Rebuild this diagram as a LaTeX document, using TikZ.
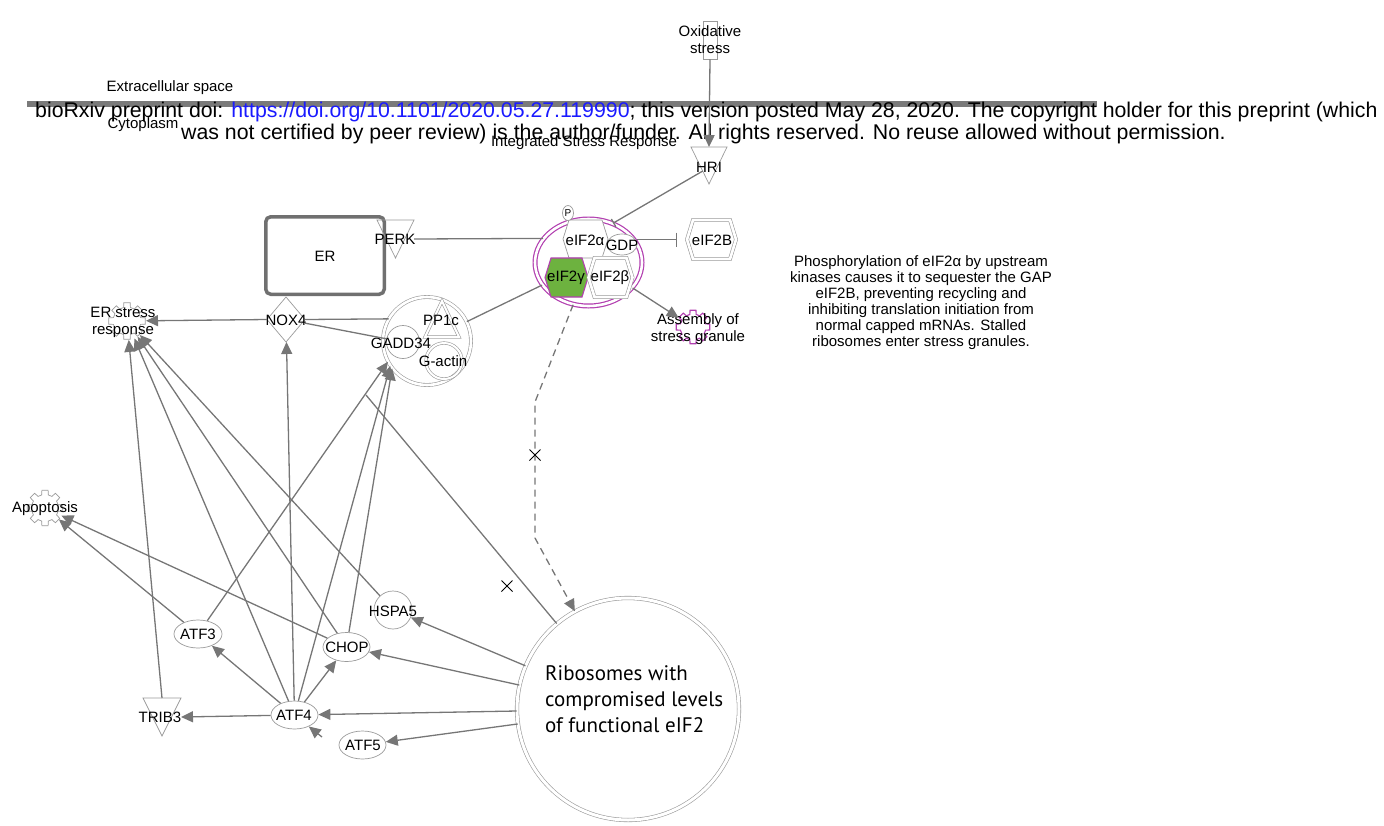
\documentclass[tikz,border=0pt]{standalone}
\usepackage{fontspec}
\setmainfont{Liberation Sans}
\newfontfamily\ribofont{PT Sans}
\usetikzlibrary{shapes.geometric,shapes.misc,arrows.meta,calc}
\definecolor{cedge}{HTML}{767676}
\definecolor{cshape}{HTML}{9A9A9A}
\definecolor{cer}{HTML}{707070}
\definecolor{cbar}{HTML}{7A7A7A}
\definecolor{cmag}{HTML}{B23FB0}
\definecolor{cgrn}{HTML}{6DB23F}
\definecolor{curl}{HTML}{1A1AFF}
\newcommand\labfont{\fontsize{15}{17}\selectfont}
\newcommand\drawgear[5]{%
  \draw[#5, shift={(#1,#2)}] ({-10}:#4) \foreach \a in {0,45,...,315}{ -- ({\a+10}:#4) -- ({\a+14}:#3) -- ({\a+31}:#3) -- ({\a+35}:#4)} -- cycle;}
\begin{document}
\begin{tikzpicture}[x=1pt,y=-1pt,
  lbl/.style={font=\labfont, inner sep=0pt, align=center},
  outl/.style={draw=cshape, line width=0.7pt},
  conn/.style={draw=cedge, line width=1.3pt},
  connarr/.style={conn, -{Triangle[length=12pt,width=11pt]}},
  invis/.style={inner sep=0pt, outer sep=0pt},
  hexpath/.style={insert path={($(#1.north west)+(6,0)$) -- ($(#1.north east)+(-6,0)$) -- (#1.east) -- ($(#1.south east)+(-6,0)$) -- ($(#1.south west)+(6,0)$) -- (#1.west) -- cycle}},
  dbl/.style={double=white, double distance=2.6pt, line width=0.6pt, draw=cshape},
  xmark/.style={cross out, draw=black, line width=1pt, minimum size=10pt, inner sep=0pt},
  ellnode/.style={ellipse, outl, minimum width=47, minimum height=28, inner sep=0pt},
]
\useasboundingbox (0,0) rectangle (1384,825);

% ---------- membrane and header texts
\fill[cbar] (27,101) rectangle (1097,107);
\node[lbl] (extra) at (170,88) {Extracellular space};
\node[lbl] (cyto) at (143,125) {Cytoplasm};
\node[lbl] (isr) at (584,143) {Integrated Stress Response};
\node[font=\fontsize{21.3}{24}\selectfont, inner sep=0pt, anchor=base west] (brx1) at (35,117) {bioRxiv preprint doi: \textcolor{curl}{https://doi.org/10.1101/2020.05.27.119990}; this version posted May 28, 2020. The copyright holder for this preprint (which};
\node[font=\fontsize{21.3}{24}\selectfont, inner sep=0pt, anchor=base west] (brx2) at (181,139) {was not certified by peer review) is the author/funder. All rights reserved. No reuse allowed without permission.};

% ---------- top: oxidative stress, HRI
\node[outl, minimum width=14, minimum height=38, inner sep=0pt] (oxs) at (710,40) {};
\node[lbl] (oxs-t) at (710,40) {Oxidative\\stress};
\node[invis, minimum width=36, minimum height=37] (hri) at (709,165.5) {};
\draw[outl] (hri.north west) -- (hri.north east) -- (hri.south) -- cycle;
\node[lbl] (hri-t) at (709,167) {HRI};

% ---------- ER, PERK, NOX4
\node[draw=cer, line width=3.5pt, rounded corners=5pt, minimum width=118.5, minimum height=77.5, inner sep=0pt] (er) at (325,255.5) {};
\node[lbl] (er-t) at (325,256) {ER};
\node[invis, minimum width=37, minimum height=38] (perk) at (395.5,239) {};
\draw[outl] (perk.north west) -- (perk.north east) -- (perk.south) -- cycle;
\node[lbl] (perk-t) at (395,239) {PERK};
\node[invis, minimum width=38, minimum height=45] (nox4) at (286,319.5) {};
\draw[outl, fill=white] (nox4.north) -- (nox4.east) -- (nox4.south) -- (nox4.west) -- cycle;
\node[lbl] (nox4-t) at (286,320) {NOX4};

% ---------- GADD34 complex
\node[circle, dbl, minimum size=88, inner sep=0pt] (gcx) at (427,341) {};
\node[circle, outl, minimum size=33, inner sep=0pt] (gadd) at (403,342) {};
\node[circle, dbl, double distance=2pt, minimum size=36, inner sep=0pt] (gact) at (444,361) {};
\node[invis, minimum width=34, minimum height=36] (pp1c) at (442,319) {};
\draw[dbl, double distance=2pt] (pp1c.south west) -- (pp1c.north) -- (pp1c.south east) -- cycle;
\node[lbl] (pp1c-t) at (441,320) {PP1c};
\node[lbl] (gadd-t) at (401,343) {GADD34};
\node[lbl] (gact-t) at (443,361) {G-actin};

% ---------- eIF2 complex
\node[ellipse, draw=cmag, double=white, double distance=2.6pt, line width=1.2pt, minimum width=107, minimum height=87, inner sep=0pt] (eif2) at (588.5,262.5) {};
\node[invis, minimum width=45, minimum height=38] (eif2a) at (585.5,239) {};
\draw[outl, fill=white] [hexpath=eif2a];
\node[invis, minimum width=43, minimum height=39] (eif2g) at (566.5,277.5) {};
\draw[draw=cmag, line width=1.1pt, fill=cgrn] [hexpath=eif2g];
\node[invis, minimum width=44, minimum height=39] (eif2bt) at (610.5,277.5) {};
\draw[dbl, fill=white] [hexpath=eif2bt];
\node[ellipse, outl, fill=white, minimum width=30, minimum height=21, inner sep=0pt] (gdp) at (622,244.5) {};
\node[ellipse, outl, fill=white, minimum width=11, minimum height=15, inner sep=0pt] (phos) at (568,213) {};
\node[font=\fontsize{10}{10}\selectfont, inner sep=0pt] (phos-t) at (568,213) {P};
\node[lbl] (eif2a-t) at (585,240) {eIF2α};
\node[lbl] (gdp-t) at (622,245) {GDP};
\node[lbl] (eif2g-t) at (566,277.5) {eIF2γ};
\node[lbl] (eif2bt-t) at (610,277.5) {eIF2β};
\node[invis, minimum width=49, minimum height=39] (eif2b) at (711.5,239.5) {};
\draw[dbl] [hexpath=eif2b];
\node[lbl] (eif2b-t) at (712,240) {eIF2B};

% ---------- functions (gears)
\node[circle, invis, minimum size=34] (asg) at (693,327) {};
\drawgear{693}{327}{13}{17}{draw=cmag, line width=1.1pt}
\node[lbl] (asg-t) at (698,329) {Assembly of\\stress granule};
\node[circle, invis, minimum size=38] (ers) at (127,321) {};
\drawgear{127}{321}{14}{18.5}{outl}
\node[lbl] (ers-t) at (123,322) {ER stress\\response};
\node[circle, invis, minimum size=36] (apo) at (45,508) {};
\drawgear{45}{508}{13.5}{18}{outl}
\node[lbl] (apo-t) at (45,509) {Apoptosis};

% ---------- genes
\node[ellnode, minimum width=48] (atf3) at (198,634) {};
\node[ellnode] (atf4) at (294.5,715) {};
\node[ellnode, minimum height=29] (chop) at (346.5,647) {};
\node[ellnode] (atf5) at (362.5,745) {};
\node[circle, outl, minimum size=38, inner sep=0pt] (hspa5) at (393,610) {};
\node[invis, minimum width=38, minimum height=38] (trib3) at (162,717) {};
\draw[outl] (trib3.north west) -- (trib3.north east) -- (trib3.south) -- cycle;
\node[lbl] (atf3-t) at (198,634) {ATF3};
\node[lbl] (atf4-t) at (294,715) {ATF4};
\node[lbl] (chop-t) at (347,647) {CHOP};
\node[lbl] (atf5-t) at (363,745) {ATF5};
\node[lbl] (hspa5-t) at (393,611) {HSPA5};
\node[lbl] (trib3-t) at (160,717) {TRIB3};

% ---------- ribosomes
\node[circle, dbl, double distance=3pt, minimum size=222, inner sep=0pt] (ribo) at (628,709) {};
\node[font=\ribofont\fontsize{21}{26}\selectfont, inner sep=0pt, anchor=base west] (rt1) at (545,680) {Ribosomes with};
\node[font=\ribofont\fontsize{21}{26}\selectfont, inner sep=0pt, anchor=base west] (rt2) at (545,706.5) {compromised levels};
\node[font=\ribofont\fontsize{21}{26}\selectfont, inner sep=0pt, anchor=base west] (rt3) at (545,732) {of functional eIF2};

% ---------- note
\node[font=\fontsize{15}{16}\selectfont, align=center, inner sep=0pt] (note) at (921,303) {Phosphorylation of eIF2α by upstream\\kinases causes it to sequester the GAP\\eIF2B, preventing recycling and\\inhibiting translation initiation from\\normal capped mRNAs. Stalled\\ribosomes enter stress granules.};

% ---------- coordinates
\coordinate (d1) at (535,402);
\coordinate (d2) at (535,538);
\coordinate (rj) at (366,395);
\coordinate (atf4h) at (322,737);

% ---------- connectors
\draw[connarr] (oxs.south) -- (hri.north);
\draw[conn, -{Bar[width=9pt]}] ($(hri.north west)!0.65!(hri.south)$) -- (eif2.58);
\draw[conn] (perk.east) -- (eif2.152);
\draw[conn, -{Bar[width=14pt]}, shorten >=10pt] (gdp.east |- eif2b.west) -- (eif2b.west);
\draw[conn] (eif2) -- (gcx);
\draw[connarr] (eif2.-30) -- (asg);
\draw[connarr, dash pattern=on 7pt off 5pt] (eif2.250) -- (d1) -- (d2) -- (ribo);
\draw[connarr] (nox4.west) -- (ers);
\draw[conn] (nox4.east) -- (gcx.150);
\draw[conn] (nox4) -- (gadd);
\draw[connarr] (atf4) -- (nox4);
\draw[connarr] (trib3.north) -- (ers);
\draw[connarr] (atf4) -- (ers);
\draw[connarr] (chop) -- (ers);
\draw[connarr] (hspa5) -- (ers);
\draw[connarr] (atf3) -- (apo);
\draw[connarr] (chop) -- (apo);
\draw[connarr] (atf3) -- (gcx.208);
\draw[connarr] (atf4) -- (gcx.214);
\draw[connarr] (chop) -- (gcx.218);
\draw[connarr] (atf4) -- (atf3);
\draw[connarr] (atf4) -- (chop);
\draw[connarr] (atf4) -- (trib3.east);
\draw[connarr] (atf4h) -- (atf4);
\draw[connarr] (ribo) -- (hspa5);
\draw[connarr] (ribo) -- (chop);
\draw[connarr] (ribo) -- (atf4);
\draw[connarr] (ribo) -- (atf5);
\draw[conn] (ribo) -- (rj);

% ---------- crosses
\node[xmark] (xa) at (535,455) {};
\node[xmark] (xb) at (507,586) {};
\end{tikzpicture}
\end{document}
